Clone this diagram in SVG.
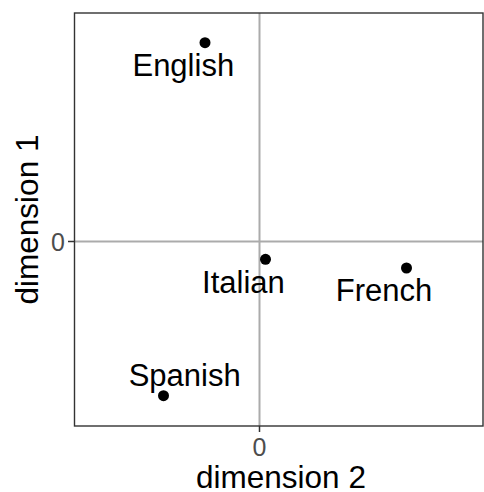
<svg xmlns="http://www.w3.org/2000/svg" width="484" height="492" viewBox="0 0 484 492">
  <style>
    text { font-family: "Liberation Sans", Arial, sans-serif; }
    .lab { font-size: 31px; fill: #000; text-anchor: middle; }
    .title { font-size: 31.5px; fill: #000; text-anchor: middle; }
    .tick { font-size: 25px; fill: #4d4d4d; }
    .zero { stroke: #ababab; stroke-width: 2; fill: none; }
    .tk { stroke: #333; stroke-width: 1.5; }
    .pt { fill: #000; }
  </style>
  <rect x="0" y="0" width="484" height="492" fill="#fff"/>
  <g id="connectors">
    <line class="zero" x1="74.5" y1="241.5" x2="483" y2="241.5"/>
    <line class="zero" x1="259.5" y1="13" x2="259.5" y2="426"/>
  </g>
  <rect id="panel" x="74.5" y="13" width="408.5" height="413" fill="none" stroke="#333" stroke-width="1.4"/>
  <g id="axes">
    <line class="tk" x1="68" y1="241.5" x2="74.5" y2="241.5"/>
    <line class="tk" x1="259.5" y1="426" x2="259.5" y2="432"/>
    <text class="tick" x="65" y="250.5" text-anchor="end">0</text>
    <text class="tick" x="259.5" y="456" text-anchor="middle">0</text>
    <text class="title" x="281" y="487.5">dimension 2</text>
    <text class="title" transform="translate(37.5,219.5) rotate(-90)">dimension 1</text>
  </g>
  <g id="English">
    <circle class="pt" cx="205" cy="42.7" r="5.5"/>
    <text class="lab" x="183.3" y="76">English</text>
  </g>
  <g id="Italian">
    <circle class="pt" cx="265.5" cy="259.3" r="5.5"/>
    <text class="lab" x="243.4" y="292.7">Italian</text>
  </g>
  <g id="French">
    <circle class="pt" cx="406.5" cy="268" r="5.5"/>
    <text class="lab" x="384" y="301">French</text>
  </g>
  <g id="Spanish">
    <circle class="pt" cx="163.5" cy="395.7" r="5.5"/>
    <text class="lab" x="184.7" y="386">Spanish</text>
  </g>
</svg>
